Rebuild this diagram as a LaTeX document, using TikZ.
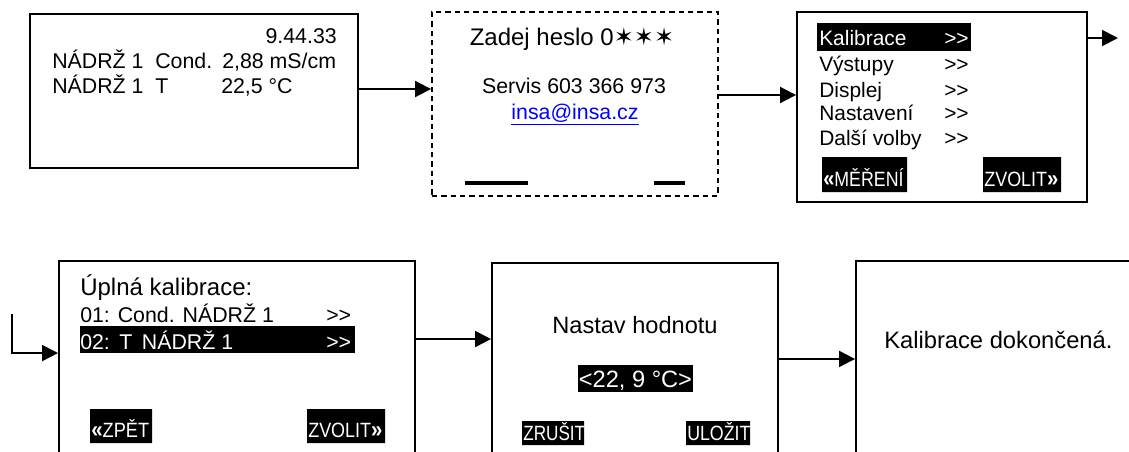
\documentclass[tikz,border=0pt]{standalone}
\usepackage{fontspec}
\setmainfont{Liberation Sans}
\newfontfamily\hvezdy{DejaVu Sans}
\usepackage{graphicx}
\usetikzlibrary{arrows.meta,fit}
\newcommand{\fs}[1]{\fontsize{#1}{#1}\selectfont}
\newcommand{\dal}{>\kern0pt>}
\newcommand{\vlevo}{{\bfseries\fs{17.5}«}}
\newcommand{\vpravo}{{\bfseries\fs{17.5}»}}

\begin{document}
\begin{tikzpicture}[x=0.75pt, y=-0.75pt,
      screen/.style={draw, line width=1.4pt, inner sep=0pt},
      txt/.style={anchor=base west, inner sep=0pt, font=\fs{16}},
      inv/.style={txt, text=white},
      tlac/.style={anchor=base west, inner sep=0pt, text=white, font=\fs{15.5}},
      arr/.style={line width=1.4pt, -{Triangle[length=12pt,width=12pt]}}]
      \useasboundingbox (0,0) rectangle (1129,451);
      \clip (0,0) rectangle (1129,451);

      \node (mereni) [screen, fit={(30,14) (358,168)}] {};
      \node (heslo) [screen, dash pattern=on 4pt off 3pt, fit={(432,12) (718,196)}] {};
      \node (menu) [screen, fit={(797,12) (1087,202)}] {};
      \node (uplna) [screen, fit={(59,261) (415,480)}] {};
      \node (nastav) [screen, fit={(492,263) (778,480)}] {};
      \node (hotovo) [screen, fit={(856,261) (1160,480)}] {};

      \node (cas) [txt, anchor=base east] at (337,43) {9.44.33};
      \node (n1) [txt] at (52,68) {NÁDRŽ 1};
      \node (c1) [txt] at (155,68) {Cond.};
      \node (v1) [txt] at (222,68) {2,88 mS/cm};
      \node (n2) [txt] at (52,93) {NÁDRŽ 1};
      \node (c2) [txt] at (155,93) {T};
      \node (v2) [txt] at (221,93) {22,5 °C};

      \node (zadej) [txt, anchor=base, font=\fs{18}] at (572,45) {Zadej heslo 0{\hvezdy ✶✶✶}};
      \node (servis) [txt, anchor=base] at (574,93) {Servis 603 366 973};
      \node (mail) [txt, anchor=base, text=blue] at (575,119) {\underline{insa@insa.cz}};
      \draw[line width=2.4pt] (465,183) -- (528,183) (654,183) -- (685,183);

      \fill (817,23) rectangle (971,51);
      \node (kal) [inv, font=\fs{15.7}] at (819,45) {Kalibrace};
      \node (kals) [inv, font=\fs{15.7}] at (944,45) {\dal};
      \foreach \t/\y [count=\i] in {Výstupy/71, Displej/97, Nastavení/120, Další volby/145} {
        \node (pol\i) [txt, font=\fs{15.7}] at (819,\y) {\t};
        \node (pols\i) [txt, font=\fs{15.7}] at (944,\y) {\dal};
      }
      \fill (822,157) rectangle (907,192) (983,157) rectangle (1061,192);
      \node (zpet1) [tlac] at (823,186) {\scalebox{0.86}[1]{\vlevo MĚŘENÍ}};
      \node (zvol1) [tlac] at (984,186) {\scalebox{0.87}[1]{ZVOLIT\vpravo}};

      \node (tit) [txt, font=\fs{18}] at (80,295) {Úplná kalibrace:};
      \node (r1) [txt] at (80,322) {01: Cond. NÁDRŽ 1};
      \node (r1s) [txt] at (326,322) {\dal};
      \fill (80,326) rectangle (355,353);
      \node (r2) [inv] at (80,349) {02:~\,T~\,NÁDRŽ 1};
      \node (r2s) [inv] at (326,349) {\dal};
      \fill (90,409) rectangle (152,443) (307,409) rectangle (385,443);
      \node (zpet2) [tlac] at (91,437) {\scalebox{0.88}[1]{\vlevo ZPĚT}};
      \node (zvol2) [tlac] at (308,437) {\scalebox{0.87}[1]{ZVOLIT\vpravo}};

      \node (hod) [txt, anchor=base, font=\fs{17.7}] at (635,333) {Nastav hodnotu};
      \fill (578,365) rectangle (693,392);
      \node (val) [inv, anchor=base, font=\fs{17.7}] at (635.5,387) {<22, 9 °C>};
      \fill (522,421) rectangle (584,445) (686,421) rectangle (750,445);
      \node (zrus) [tlac] at (523,440) {\scalebox{0.83}[1]{ZRUŠIT}};
      \node (uloz) [tlac] at (687,440) {\scalebox{0.86}[1]{ULOŽIT}};

      \node (kon) [txt, font=\fs{17.8}] at (884,348) {Kalibrace dokončená.};

      \coordinate (a1) at ([yshift=1.5pt]mereni.east);
      \coordinate (a2) at ([yshift=6.75pt]heslo.east);
      \coordinate (a3) at ([yshift=51.75pt]menu.east);
      \coordinate (ven) at (1118,38);
      \coordinate (vstup) at (12,314);
      \coordinate (a5) at ([yshift=23.6pt]uplna.east);
      \coordinate (a6) at ([yshift=9.4pt]nastav.east);
      \draw[arr] (a1) -- (a1 -| heslo.west);
      \draw[arr] (a2) -- (a2 -| menu.west);
      \draw[arr] (a3) -- (ven);
      \draw[arr] (vstup) |- ([yshift=13.1pt]uplna.west);
      \draw[arr] (a5) -- (a5 -| nastav.west);
      \draw[arr] (a6) -- (a6 -| hotovo.west);
\end{tikzpicture}
\end{document}
